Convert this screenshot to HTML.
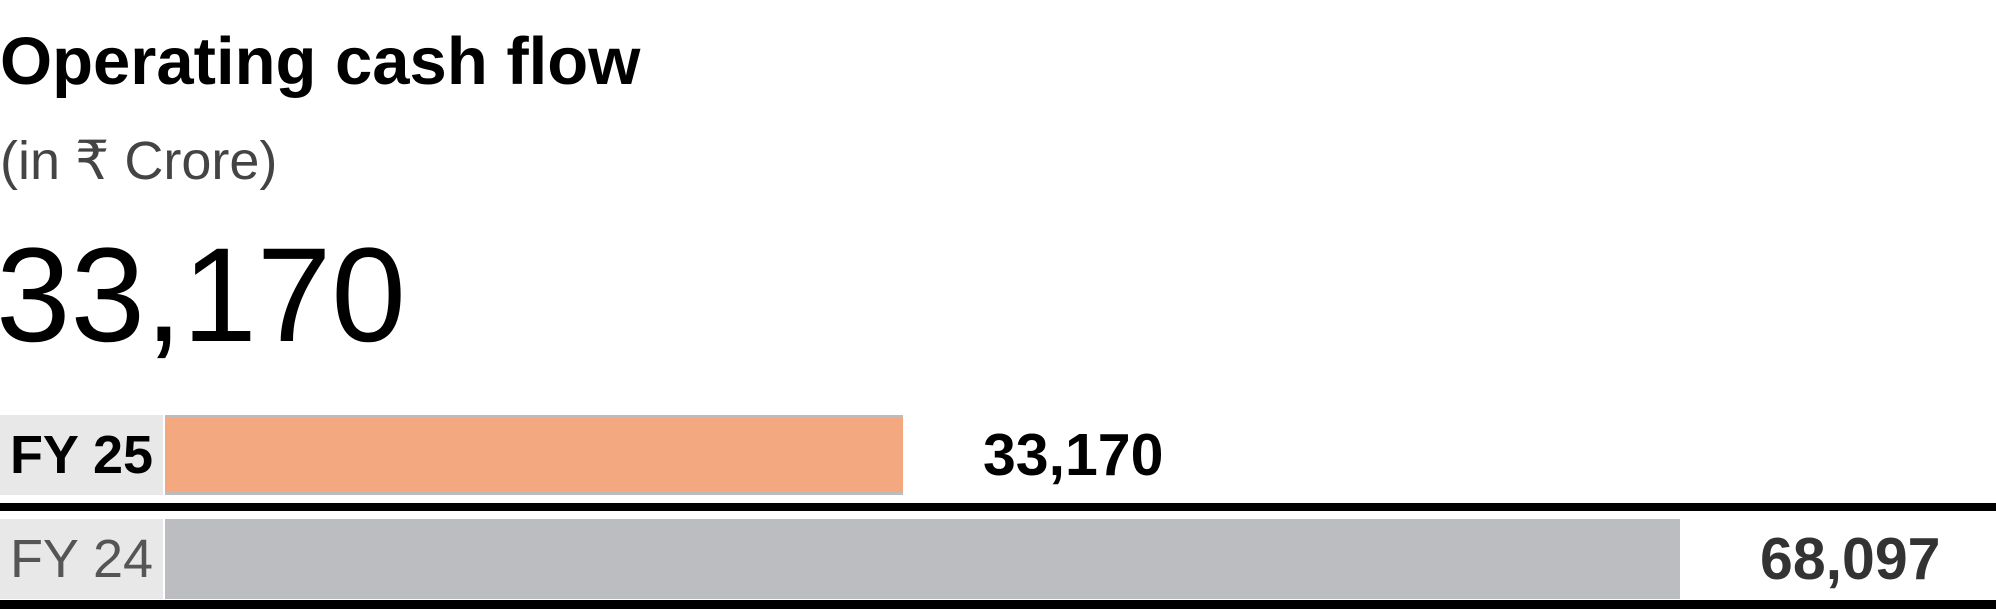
<!DOCTYPE html>
<html><head><meta charset="utf-8"><style>
body{margin:0;width:1996px;height:609px;background:#fff;overflow:hidden;font-family:"Liberation Sans",sans-serif;position:relative}
.a{position:absolute;white-space:nowrap}
</style></head><body>
<div class="a" style="left:0;top:22px;font-size:67px;font-weight:bold;color:#000;line-height:80px">Operating cash flow</div>
<div class="a" style="left:0;top:128px;font-size:54px;color:#444;line-height:66px">(in ₹ Crore)</div>
<div class="a" style="left:-4px;top:226px;font-size:134px;color:#000;line-height:140px">33,170</div>
<div id="rows"></div>
<script>
const categories=["FY 25","FY 24"];
const values=[33170,68097];
const valueLabels=["33,170","68,097"];
const x0=165,maxV=68097,wMax=1515;
const xs=v=>x0+v/maxV*wMax;
const rowsEl=document.getElementById('rows');
const tops=[415,519];
const lineTops=[503,600];
categories.forEach((c,i)=>{
  const t=tops[i];
  const lab=document.createElement('div');
  
  
  lab.className='a';
  lab.style.cssText=`left:0;top:${t}px;width:163px;height:80px;background:#e8e8e9;font-size:54px;line-height:80px;text-align:center;${i==0?'font-weight:bold;color:#000':'color:#555'}`;
  lab.textContent=c;
  rowsEl.appendChild(lab);
  const bar=document.createElement('div');
  
  
  bar.className='a';
  bar.style.cssText=`left:${x0}px;top:${t}px;width:${xs(values[i])-x0}px;height:80px;box-sizing:border-box;background:${i==0?'#f3a880':'#bcbdc0'};${i==0?'border-top:3px solid #bcbcbc;border-bottom:3px solid #bcbcbc':''}`;
  rowsEl.appendChild(bar);
  const v=document.createElement('div');
  
  
  v.className='a';
  v.style.cssText=`left:${xs(values[i])+80}px;top:${t}px;height:80px;line-height:80px;font-size:59px;font-weight:bold;color:${i==0?'#000':'#333'}`;
  v.textContent=valueLabels[i];
  rowsEl.appendChild(v);
  const ln=document.createElement('div');
  
  
  ln.className='a';
  ln.style.cssText=`left:0;top:${lineTops[i]}px;width:1996px;height:${i==0?8:9}px;background:#000`;
  rowsEl.appendChild(ln);
});
</script>
</body></html>
